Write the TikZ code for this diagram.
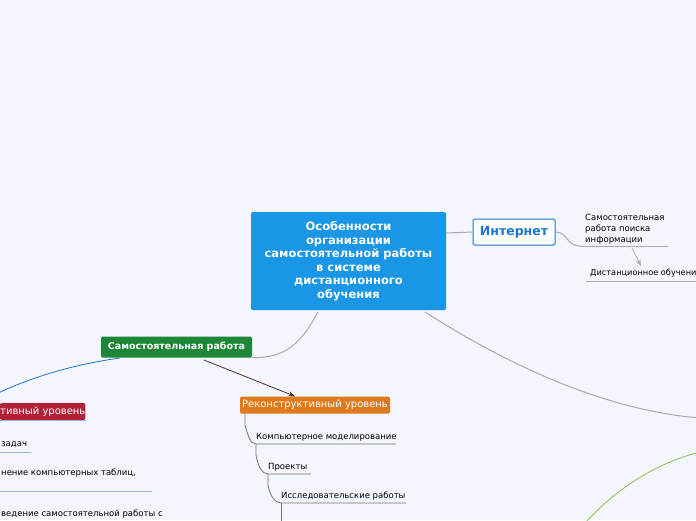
\documentclass[tikz,border=0pt]{standalone}
\usepackage{fontspec}
\setmainfont{DejaVu Sans}
\usepackage{xcolor}
\usetikzlibrary{positioning, arrows.meta, calc}

\definecolor{bgpaper}{RGB}{243,246,253}
\definecolor{centralblue}{RGB}{26,150,230}
\definecolor{netblue}{RGB}{26,116,208}
\definecolor{workgreen}{RGB}{30,135,55}
\definecolor{levelred}{RGB}{178,32,56}
\definecolor{levelorange}{RGB}{224,122,30}
\definecolor{linkgray}{RGB}{170,170,172}
\definecolor{treebrown}{RGB}{128,112,104}
\definecolor{arrowbrown}{RGB}{80,48,36}
\definecolor{underblue}{RGB}{150,180,225}
\definecolor{limegreen}{RGB}{140,195,75}

\begin{document}
\begin{tikzpicture}[
  x=1pt, y=-1pt,
  >=Stealth,
  every node/.style={font=\fontsize{8.5}{11}\selectfont},
  topic/.style={rounded corners=1.5pt, inner sep=0pt, align=center},
  central/.style={topic, fill=centralblue, text=white, minimum width=195pt, minimum height=98pt,
    font=\fontsize{11.5}{13.5}\selectfont\bfseries},
  netbox/.style={topic, fill=white, draw=netblue, line width=1pt, text=netblue, minimum width=82pt,
    minimum height=26pt, font=\fontsize{12.5}{14}\selectfont\bfseries},
  workbox/.style={topic, fill=workgreen, text=white, minimum width=151pt, minimum height=21pt,
    font=\fontsize{9.5}{11}\selectfont\bfseries},
  levelbox/.style={topic, text=white, minimum height=17pt, font=\fontsize{10}{12}\selectfont},
  leaf/.style={anchor=base west, inner sep=0pt},
  uline/.style={linkgray, line width=0.8pt},
  link/.style={linkgray, line width=1pt}
]
\useasboundingbox (0,0) rectangle (696,520);
\fill[bgpaper] (0,0) rectangle (696,520);
\clip (0,0) rectangle (696,520);

% Central topic
\node[central] (main) at (348.5,261) {Особенности\\организации\\самостоятельной работы\\в системе\\дистанционного\\обучения};

% Right branch: Internet
\node[netbox] (net) at (514,232) {Интернет};
\node[anchor=north west, inner sep=0pt, align=left] (search) at (585,214)
  {Самостоятельная\\работа поиска\\информации};
\coordinate (s1) at (580,246);
\coordinate (s2) at (668,246);
\node[leaf, font=\fontsize{8.2}{11}\selectfont] (dist) at (590,275) {Дистанционное обучени};
\coordinate (d1) at (586,281);
\coordinate (d2) at (700,281);

\draw[link] (main.east |- net) ++(0,1) coordinate (m1) -- (net.west);
\draw[link] (net.east) .. controls (568,232) and (566,246) .. (s1);
\draw[uline] (s1) -- (s2);
\draw[->, linkgray, line width=0.8pt] (632,248) -- (641,266);
\draw[uline] (d1) -- (d2);

% Long branches leaving the picture
\coordinate (far1) at (700,418);
\coordinate (far2) at (700,452);
\coordinate (far3) at (586,522);
\draw[link] (425,312) .. controls (500,360) and (600,410) .. (far1);
\draw[line width=0.8pt, limegreen] (far3) .. controls (620,485) and (660,462) .. (far2);

% Left branch: independent work
\node[workbox] (work) at (176.5,347) {Самостоятельная работа};
\draw[link] (318,312) .. controls (300,345) and (285,358) .. (work.south east);

% Reproductive level (cut by the frame)
\node[levelbox, fill=levelred, anchor=west, minimum width=84pt] (repro) at (0,411.5) {тивный уровень};
\coordinate (r0) at (-4,394);
\draw[netblue, line width=0.8pt] (120,358) .. controls (70,365) and (30,378) .. (r0);
\draw[underblue, line width=0.8pt] (repro.south west) -- (repro.south east);

\node[leaf] (task) at (1,446) {задач};
\draw[underblue, line width=0.8pt] (-2,452) -- (31,452);
\node[leaf] (tables) at (1,475) {нение компьютерных таблиц,};
\draw[underblue, line width=0.8pt] (-2,491) -- (152,491);
\node[leaf] (conduct) at (1,516) {ведение самостоятельной работы с};

% Reconstructive level
\node[levelbox, fill=levelorange, minimum width=150pt] (recon) at (315,405) {Реконструктивный уровень};
\draw[->, arrowbrown, line width=0.8pt] (204,360) -- (recon.north -| 295,0);

\node[leaf] (model) at (256,439) {Компьютерное моделирование};
\node[leaf] (proj) at (268,469) {Проекты};
\node[leaf] (research) at (281,498) {Исследовательские работы};
\coordinate (t1) at (256,444);
\coordinate (t2) at (268,474);
\coordinate (t3) at (281,503);

\draw[treebrown, line width=0.8pt] (245,413) -- (245,425) .. controls (248,435) and (250,444) .. (t1) -- (396,444);
\draw[treebrown, line width=0.8pt] (t1) -- (256,455) .. controls (258,466) and (262,474) .. (t2) -- (311,474);
\draw[treebrown, line width=0.8pt] (t2) -- (268,485) .. controls (270,496) and (275,503) .. (t3) -- (406,503);
\draw[treebrown, line width=0.8pt] (t3) -- (281,525);

\end{tikzpicture}
\end{document}
